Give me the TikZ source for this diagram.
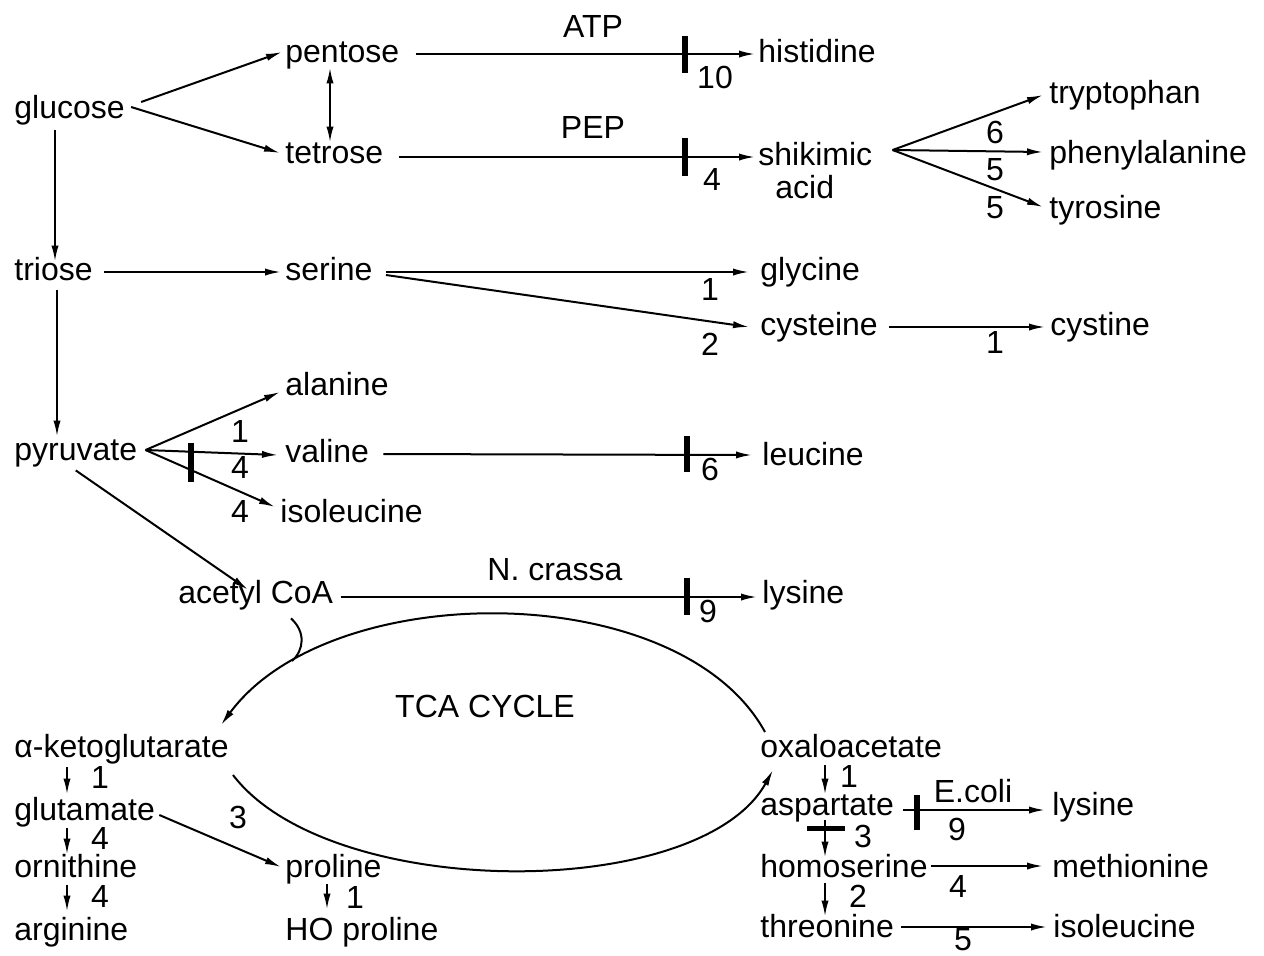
\documentclass[tikz,border=0pt]{standalone}
\usepackage{fontspec}
\setmainfont{Liberation Sans}
\usetikzlibrary{arrows.meta,calc}
\begin{document}
\begin{tikzpicture}[x=0.5pt,y=-0.5pt,
  txt/.style={anchor=base west,inner sep=0pt,text height=11.5pt,text depth=3.5pt,font=\fontsize{16}{19}\selectfont},
  lab/.style={anchor=base,inner sep=0pt,font=\fontsize{16}{19}\selectfont},
  conn/.style={line width=1pt,-{Latex[length=8pt,width=3.6pt]}},
  plain/.style={line width=1pt},
  blk/.style={line width=3pt}]
\path[use as bounding box,fill=white] (0,0) rectangle (1264,955);
% ---------- nodes ----------
\node[txt] (glucose) at (14,118) {glucose};
\node[txt] (pentose) at (285,62) {pentose};
\node[txt] (tetrose) at (285,163) {tetrose};
\node[txt] (histidine) at (758,62) {histidine};
\node[txt] (shikimic) at (758,165) {shikimic};
\node[txt] (acid) at (775,198) {acid};
\node[txt] (tryptophan) at (1049,103) {tryptophan};
\node[txt] (phenylalanine) at (1049,163) {phenylalanine};
\node[txt] (tyrosine) at (1049,218) {tyrosine};
\node[txt] (triose) at (14,280) {triose};
\node[txt] (serine) at (285,280) {serine};
\node[txt] (glycine) at (760,280) {glycine};
\node[txt] (cysteine) at (760,335) {cysteine};
\node[txt] (cystine) at (1050,335) {cystine};
\node[txt] (alanine) at (285,395) {alanine};
\node[txt] (pyruvate) at (14,460) {pyruvate};
\node[txt] (valine) at (285,462) {valine};
\node[txt] (leucine) at (762,465) {leucine};
\node[txt] (ileuA) at (280,522) {isoleucine};
\node[txt] (acetyl) at (178,603) {acetyl CoA};
\node[txt] (lysA) at (762,603) {lysine};
\node[lab] (tca) at (485,717) {TCA CYCLE};
\node[txt] (aketo) at (14,757) {α-ketoglutarate};
\node[txt] (glutamate) at (14,820) {glutamate};
\node[txt] (ornithine) at (14,877) {ornithine};
\node[txt] (arginine) at (14,940) {arginine};
\node[txt] (proline) at (285,877) {proline};
\node[txt] (hoproline) at (285,940) {HO proline};
\node[txt] (oxalo) at (760,757) {oxaloacetate};
\node[txt] (aspartate) at (760,815) {aspartate};
\node[txt] (lysB) at (1052,815) {lysine};
\node[txt] (homoserine) at (760,877) {homoserine};
\node[txt] (methionine) at (1052,877) {methionine};
\node[txt] (threonine) at (760,937) {threonine};
\node[txt] (ileuB) at (1053,937) {isoleucine};
% ---------- labels ----------
\node[lab] (lATP) at (593,37) {ATP};
\node[lab] (l10) at (715,88) {10};
\node[lab] (lPEP) at (593,138) {PEP};
\node[lab] (l4a) at (712,190) {4};
\node[lab] (l6a) at (995,143) {6};
\node[lab] (l5a) at (995,180) {5};
\node[lab] (l5b) at (995,218) {5};
\node[lab] (l1a) at (710,300) {1};
\node[lab] (l2a) at (710,355) {2};
\node[lab] (l1b) at (995,353) {1};
\node[lab] (l1c) at (240,442) {1};
\node[lab] (l4b) at (240,478) {4};
\node[lab] (l4c) at (240,522) {4};
\node[lab] (l6b) at (710,480) {6};
\node[lab] (lNc) at (555,580) {N. crassa};
\node[lab] (l9a) at (708,622) {9};
\node[lab] (l1d) at (100,788) {1};
\node[lab] (l4d) at (100,849) {4};
\node[lab] (l4e) at (100,907) {4};
\node[lab] (l3a) at (238,828) {3};
\node[lab] (l1e) at (355,908) {1};
\node[lab] (l1f) at (849,787) {1};
\node[lab] (lEc) at (973,802) {E.coli};
\node[lab] (l9b) at (957,840) {9};
\node[lab] (l3b) at (863,847) {3};
\node[lab] (l4f) at (958,897) {4};
\node[lab] (l2b) at (858,907) {2};
\node[lab] (l5c) at (963,950) {5};
% ---------- connectors ----------
\draw[conn] ($(glucose.east)+(16,-8)$) -- ($(pentose.west)+(-3,-2)$);
\draw[conn] ($(glucose.east)+(6,-3)$) -- ($(tetrose.west)+(-5,-2)$);
\draw[line width=1pt,{Latex[length=8pt,width=3.6pt]}-{Latex[length=8pt,width=3.6pt]}] ($(pentose.south west)+(45,-2)$) -- ($(tetrose.north west)+(45,3)$);
\draw[conn] ($(pentose.east)+(16,0)$) -- ($(pentose.east -| histidine.west)+(-3,0)$);
\draw[blk] ($(histidine.west)+(-73,-18)$) -- ($(histidine.west)+(-73,19)$);
\draw[conn] ($(tetrose.east)+(15,2)$) -- ($(shikimic.west)+(-3,0)$);
\draw[blk] ($(shikimic.west)+(-73,-19)$) -- ($(shikimic.west)+(-73,19)$);
\coordinate (shfan) at ($(shikimic.east)+(20,-7)$);
\draw[conn] (shfan) -- ($(tryptophan.west)+(-6,0)$);
\draw[conn] (shfan) -- ($(phenylalanine.west)+(-6,-3)$);
\draw[conn] (shfan) -- ($(tyrosine.west)+(-6,-3)$);
\draw[conn] ($(glucose.south west)+(41,5)$) -- ($(triose.north west)+(41,5)$);
\draw[conn] ($(triose.east)+(11,0)$) -- ($(serine.west)+(-4,0)$);
\draw[conn] ($(triose.south west)+(43,3)$) -- ($(pyruvate.north west)+(43,0)$);
\draw[conn] ($(serine.east)+(13,0)$) -- ($(glycine.west)+(-11,0)$);
\draw[conn] ($(serine.east)+(13,3)$) -- ($(cysteine.west)+(-11,0)$);
\draw[conn] ($(cysteine.east)+(11,0)$) -- ($(cystine.west)+(-5,0)$);
\coordinate (pyfan) at ($(pyruvate.east)+(8,-2)$);
\draw[conn] (pyfan) -- ($(alanine.west)+(-5,5)$);
\draw[conn] (pyfan) -- ($(valine.west)+(-7,1)$);
\draw[conn] (pyfan) -- ($(ileuA.west)+(-5,-7)$);
\draw[blk] ($(pyruvate.east)+(53,-9)$) -- ($(pyruvate.east)+(53,30)$);
\draw[conn] ($(valine.east)+(14,0)$) -- ($(leucine.west)+(-10,-2)$);
\draw[blk] ($(leucine.west)+(-75,-21)$) -- ($(leucine.west)+(-75,15)$);
\draw[conn] ($(pyruvate.south)+(0,3)$) -- ($(acetyl.north west)+(70,10)$);
\draw[conn] ($(acetyl.east)+(7,2)$) -- ($(lysA.west)+(-5,2)$);
\draw[blk] ($(lysA.west)+(-75,-17)$) -- ($(lysA.west)+(-75,20)$);
% TCA cycle
\coordinate (tcaTR) at (765,732);
\coordinate (tcaTL) at (221,725);
\coordinate (tcaBL) at (233,775);
\coordinate (tcaBR) at (773,770);
\draw[conn] (tcaTR) .. controls (680,577) and (330,577) .. (tcaTL);
\draw[conn] (tcaBL) .. controls (330,902) and (700,902) .. (tcaBR);
\coordinate (acA) at ($(acetyl.south west)+(113,8)$);
\coordinate (acB) at (292,661);
\draw[plain] (acA) .. controls (306,632) and (304,650) .. (acB);
% left column
\draw[conn] ($(aketo.south west)+(53,3)$) -- ($(glutamate.north west)+(53,-2)$);
\draw[conn] ($(glutamate.south west)+(53,1)$) -- ($(ornithine.north west)+(53,1)$);
\draw[conn] ($(ornithine.south west)+(53,1)$) -- ($(arginine.north west)+(53,-5)$);
\draw[conn] ($(glutamate.east)+(4,3)$) -- ($(proline.west)+(-4,-2)$);
\draw[conn] ($(proline.south west)+(42,0)$) -- ($(hoproline.north west)+(42,-7)$);
% right column
\draw[conn] ($(oxalo.south west)+(65,1)$) -- ($(aspartate.north west)+(65,3)$);
\draw[conn] ($(aspartate.south west)+(65,-2)$) -- ($(homoserine.north west)+(65,4)$);
\draw[line width=2.6pt] ($(aspartate.south west)+(47,6)$) -- ($(aspartate.south west)+(85,6)$);
\draw[conn] ($(homoserine.south west)+(65,-1)$) -- ($(threonine.north west)+(65,3)$);
\draw[conn] ($(aspartate.east)+(9,3)$) -- ($(lysB.west)+(-7,3)$);
\draw[blk] ($(lysB.west)+(-135,-12)$) -- ($(lysB.west)+(-135,23)$);
\draw[conn] ($(homoserine.east)+(3,-3)$) -- ($(methionine.west)+(-9,-3)$);
\draw[conn] ($(threonine.east)+(7,-2)$) -- ($(ileuB.west)+(-6,-2)$);
\end{tikzpicture}
\end{document}
